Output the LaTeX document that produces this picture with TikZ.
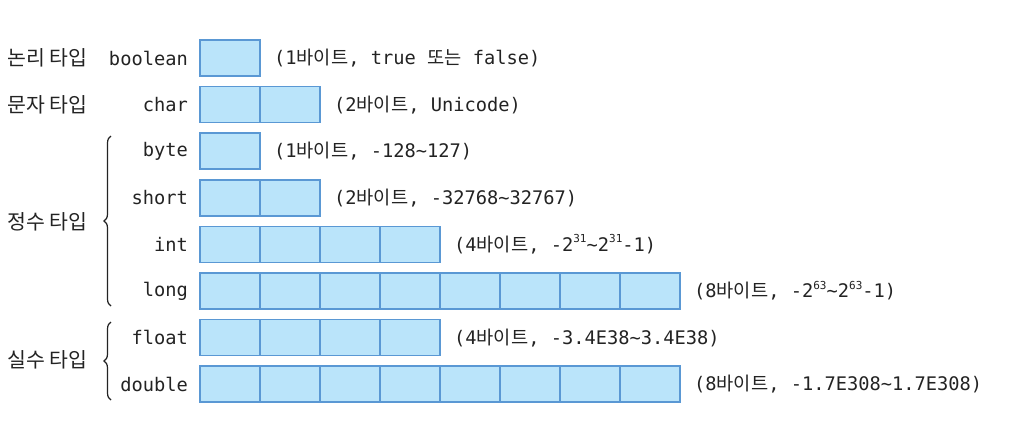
\documentclass[tikz,border=0pt]{standalone}
\usepackage{fontspec}
\setmonofont{DejaVu Sans Mono}
\newfontfamily\kr{Noto Sans CJK KR}
\usetikzlibrary{decorations.pathreplacing}
\definecolor{cellfill}{RGB}{186,228,250}
\definecolor{celldraw}{RGB}{90,152,212}
\definecolor{txt}{RGB}{35,35,35}
\newcommand{\kb}[1]{{\kr #1}}
\newcommand{\sx}[1]{\raisebox{0.45em}{\fontsize{11}{11}\selectfont #1}}
\begin{document}
\begin{tikzpicture}[x=1pt,y=-1pt,
  cell/.style={draw=celldraw, fill=cellfill, line width=1.6pt, minimum width=60pt, minimum height=36pt, inner sep=0pt, outer sep=0pt},
  tname/.style={anchor=east, font=\fontsize{18.7}{22}\ttfamily, text=txt, inner sep=0pt},
  desc/.style={anchor=west, font=\fontsize{18.7}{22}\ttfamily, text=txt, inner sep=0pt},
  group/.style={anchor=west, font=\fontsize{20.5}{24}\kr, text=txt, inner sep=0pt},
  bracedeco/.style={decorate, decoration={brace, amplitude=7pt}, line width=1.2pt, draw=txt}]
\useasboundingbox (0,0) rectangle (1014,432);
\foreach \nm/\k/\n/\d in {
  boolean/0/1/{(1\kb{바이트}, true \kb{또는} false)},
  char/1/2/{(2\kb{바이트}, Unicode)},
  byte/2/1/{(1\kb{바이트}, -128\textasciitilde127)},
  short/3/2/{(2\kb{바이트}, -32768\textasciitilde32767)},
  int/4/4/{(4\kb{바이트}, -2\sx{31}\textasciitilde2\sx{31}-1)},
  long/5/8/{(8\kb{바이트}, -2\sx{63}\textasciitilde2\sx{63}-1)},
  float/6/4/{(4\kb{바이트}, -3.4E38\textasciitilde3.4E38)},
  double/7/8/{(8\kb{바이트}, -1.7E308\textasciitilde1.7E308)}}{
  \pgfmathsetmacro{\yy}{58+46.6*\k}
  \node[tname] (t-\nm) at (188,\yy) {\nm};
  \foreach \i in {1,...,\n}{
    \node[cell] (c-\nm-\i) at ({200+60*(\i-0.5)},\yy) {};
  }
  \node[desc] (d-\nm) at ({200+60*\n+14},\yy) {\d};
}
\node[group] (g-logic) at (7,58) {논리 타입};
\node[group] (g-char) at (7,104.6) {문자 타입};
\node[group] (g-int) at (7,222) {정수 타입};
\node[group] (g-real) at (7,360) {실수 타입};
\coordinate (bi-top) at (111,136);
\coordinate (bi-bot) at (111,306);
\coordinate (br-top) at (111,322);
\coordinate (br-bot) at (111,400);
\draw[bracedeco] (bi-bot) -- (bi-top);
\draw[bracedeco] (br-bot) -- (br-top);
\end{tikzpicture}
\end{document}
